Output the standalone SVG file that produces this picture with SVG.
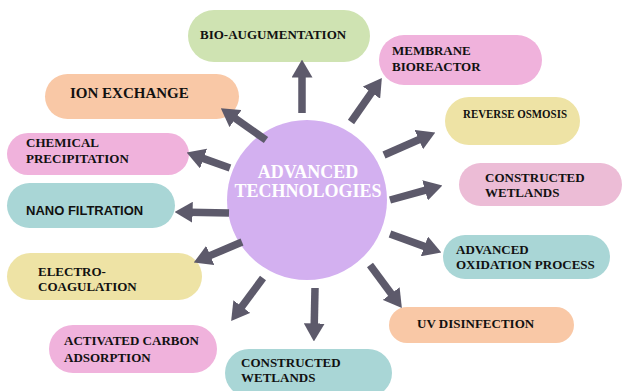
<svg xmlns="http://www.w3.org/2000/svg" width="622" height="391" viewBox="0 0 622 391">
<style>
.t{font-family:"Liberation Serif","Times New Roman",serif;font-weight:bold;font-size:13px;fill:#111}
.s{font-family:"Liberation Sans",Arial,sans-serif;font-weight:bold;font-size:13px;fill:#111}
.c{font-family:"Liberation Serif","Times New Roman",serif;font-weight:bold;font-size:18px;fill:#fff;text-anchor:middle}
.a{stroke:#5d5a6b;stroke-width:7.5;fill:none;marker-end:url(#h)}
.green{fill:#cfe3b2}.pink{fill:#f0b2dc}.yellow{fill:#eee3a5}.lpink{fill:#ecbcd6}.teal{fill:#a9d6d6}.peach{fill:#f9c8a6}
</style>
<defs>
<marker id="h" viewBox="0 0 10 10" refX="2" refY="5" markerWidth="2.4" markerHeight="2.8" preserveAspectRatio="none" orient="auto" markerUnits="strokeWidth">
<path d="M0,0 L10,5 L0,10 z" fill="#5d5a6b"/>
</marker>
</defs>
<rect width="622" height="391" fill="#fff"/>
<g id="n-bio"><rect class="green" x="188" y="10" width="182" height="52" rx="26"/><text class="t" x="200" y="39">BIO-AUGUMENTATION</text></g>
<g id="n-membrane"><rect class="pink" x="379" y="35" width="163" height="50" rx="25"/><text class="t" x="392" y="55">MEMBRANE</text><text class="t" x="392" y="71">BIOREACTOR</text></g>
<g id="n-ro"><rect class="yellow" x="445" y="97" width="135" height="48" rx="24"/><text class="t" x="463" y="118" textLength="104" lengthAdjust="spacingAndGlyphs">REVERSE OSMOSIS</text></g>
<g id="n-cw-right"><rect class="lpink" x="459" y="163" width="163" height="43" rx="21.5"/><text class="t" x="485" y="182">CONSTRUCTED</text><text class="t" x="485" y="197">WETLANDS</text></g>
<g id="n-aop"><rect class="teal" x="443" y="235" width="167" height="44" rx="22"/><text class="t" x="456" y="254">ADVANCED</text><text class="t" x="456" y="269">OXIDATION PROCESS</text></g>
<g id="n-uv"><rect class="peach" x="389" y="307" width="185" height="36" rx="18"/><text class="t" x="417" y="328">UV DISINFECTION</text></g>
<g id="n-cw-bottom"><rect class="teal" x="225" y="349" width="167" height="48" rx="24"/><text class="t" x="241" y="367">CONSTRUCTED</text><text class="t" x="241" y="382">WETLANDS</text></g>
<g id="n-activated"><rect class="pink" x="49" y="325" width="168" height="48" rx="24"/><text class="t" x="64" y="345">ACTIVATED CARBON</text><text class="t" x="64" y="362">ADSORPTION</text></g>
<g id="n-electro"><rect class="yellow" x="7" y="253" width="195" height="47" rx="23.5"/><text class="t" x="38" y="276">ELECTRO-</text><text class="t" x="38" y="291">COAGULATION</text></g>
<g id="n-nano"><rect class="teal" x="7" y="183" width="168" height="45" rx="22.5"/><text class="s" x="26" y="215">NANO FILTRATION</text></g>
<g id="n-chem"><rect class="pink" x="7" y="133" width="182" height="42" rx="21"/><text class="t" x="26" y="147">CHEMICAL</text><text class="t" x="26" y="163">PRECIPITATION</text></g>
<g id="n-ion"><rect class="peach" x="45" y="74" width="194" height="45" rx="22.5"/><text class="t" x="70" y="98" style="font-size:15px">ION EXCHANGE</text></g>
<g id="n-center"><circle cx="307" cy="200" r="80" fill="#d3b0f0"/><text class="c" x="308" y="178">ADVANCED</text><text class="c" x="308" y="197">TECHNOLOGIES</text></g>
<g id="connectors">
<line class="a" x1="302" y1="113" x2="302" y2="74"/>
<line class="a" x1="266" y1="140" x2="232.6" y2="116.5"/>
<line class="a" x1="230" y1="168" x2="200.2" y2="157.4"/>
<line class="a" x1="229" y1="213" x2="189" y2="212.2"/>
<line class="a" x1="242" y1="242" x2="207" y2="256.9"/>
<line class="a" x1="263" y1="278" x2="239.7" y2="309.5"/>
<line class="a" x1="315" y1="288" x2="314.2" y2="327"/>
<line class="a" x1="370" y1="265" x2="393.3" y2="296.5"/>
<line class="a" x1="390" y1="234" x2="427.8" y2="247.6"/>
<line class="a" x1="390" y1="200" x2="428.5" y2="189.4"/>
<line class="a" x1="384" y1="155" x2="422.1" y2="138.2"/>
<line class="a" x1="351" y1="122" x2="373.6" y2="89.7"/>
</g>
</svg>
